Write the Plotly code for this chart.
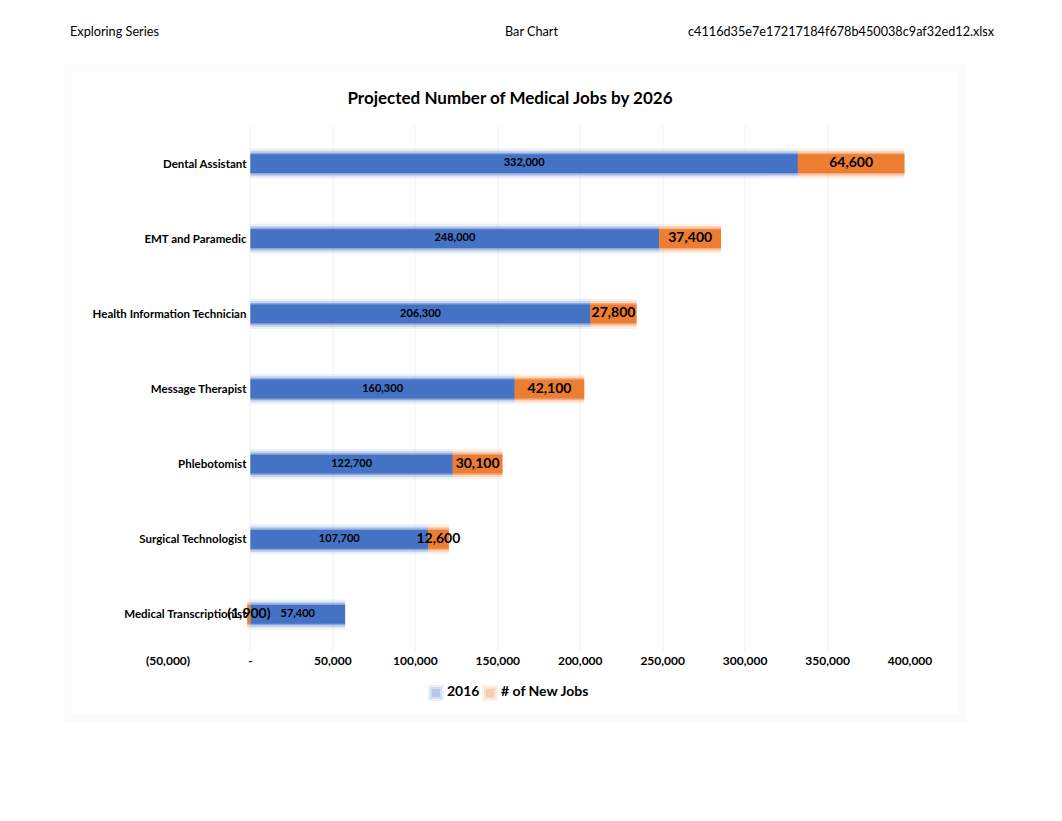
import plotly.graph_objects as go

categories = ["Dental Assistant", "EMT and Paramedic", "Health Information Technician",
              "Message Therapist", "Phlebotomist", "Surgical Technologist",
              "Medical Transcriptionist"]
jobs_2016 = [332000, 248000, 206300, 160300, 122700, 107700, 57400]
new_jobs = [64600, 37400, 27800, 42100, 30100, 12600, -1900]
series_names = ["2016", "# of New Jobs"]
tick_vals = [-50000, 0, 50000, 100000, 150000, 200000, 250000, 300000, 350000, 400000]
tick_text = ["(50,000)", "-", "50,000", "100,000", "150,000", "200,000", "250,000",
             "300,000", "350,000", "400,000"]

BLUE = "#4472C4"
ORANGE = "#ED7D31"
FONT = "Lato"
XMIN, XMAX = -50000, 400000

def fmt(v):
    return f"({abs(v):,})" if v < 0 else f"{v:,}"

new_base = [b if n >= 0 else 0 for b, n in zip(jobs_2016, new_jobs)]

fig = go.Figure()

def add_bar(x, base, color, name):
    for w, op in [(0.40, 0.10), (0.34, 0.22), (0.29, 0.45)]:
        fig.add_trace(go.Bar(y=categories, x=x, base=base, orientation="h",
                             marker=dict(color=color, line=dict(width=0)),
                             opacity=op, width=w, showlegend=False, hoverinfo="skip"))
    fig.add_trace(go.Bar(y=categories, x=x, base=base, orientation="h", name=name,
                         marker=dict(color=color, line=dict(width=0)),
                         width=0.25, showlegend=False))

add_bar(jobs_2016, [0] * len(jobs_2016), BLUE, series_names[0])
add_bar(new_jobs, new_base, ORANGE, series_names[1])

fig.add_trace(go.Scatter(y=categories, x=[v / 2 for v in jobs_2016], mode="text",
                         text=[fmt(v) for v in jobs_2016],
                         textfont=dict(family=FONT, size=11, color="#000000", weight="bold"),
                         showlegend=False, hoverinfo="skip"))
fig.add_trace(go.Scatter(y=categories, x=[b + n / 2 for b, n in zip(new_base, new_jobs)],
                         mode="text", text=[fmt(v) for v in new_jobs],
                         textfont=dict(family=FONT, size=14, color="#000000", weight="bold"),
                         showlegend=False, hoverinfo="skip"))

OFF = 8  # page body margin
W, H = 1062 - OFF, 821 - OFF
L, R, T, B = 168 - OFF, 910 - OFF, 126 - OFF, 652 - OFF

def px(xp):
    return (xp - OFF - L) / (R - L)

def py(yp):
    return (B - (yp - OFF)) / (B - T)

fig.update_layout(
    width=W, height=H,
    margin=dict(l=L, r=W - R, t=T, b=H - B, autoexpand=False),
    paper_bgcolor="white", plot_bgcolor="white",
    barmode="overlay",
    font=dict(family=FONT, color="#000000"),
    title=dict(text="<b>Projected Number of Medical Jobs by 2026</b>",
               font=dict(family=FONT, size=17, color="#000000"),
               x=(510 - OFF) / W, xanchor="center", y=1 - (98 - OFF) / H, yanchor="middle",
               xref="container", yref="container"),
    xaxis=dict(range=[XMIN, XMAX], tickvals=tick_vals, ticktext=tick_text,
               showgrid=True, gridcolor="#f8f8f8", gridwidth=2, zeroline=False,
               showline=False, ticks="", fixedrange=True, automargin=False,
               tickfont=dict(family=FONT, size=12, color="#000000", weight="bold")),
    yaxis=dict(autorange="reversed", anchor="free", automargin=False,
               position=(0 - XMIN) / (XMAX - XMIN),
               showgrid=False, zeroline=False, showline=False, ticks="",
               ticklabelstandoff=4,
               tickfont=dict(family=FONT, size=11.5, color="#000000", weight="bold")),
    showlegend=False,
)

# legend (soft blurred swatches + labels)
leg_font = dict(family=FONT, size=14, color="#000000", weight="bold")
for (cx, tx), color, name in zip([(436, 445), (490, 499)], [BLUE, ORANGE], series_names):
    for s, op in [(8, 0.10), (6, 0.15), (4, 0.2)]:
        fig.add_shape(type="rect", xref="paper", yref="paper",
                      x0=px(cx - s), x1=px(cx + s), y0=py(693 + s), y1=py(693 - s),
                      line=dict(width=0), fillcolor=color, opacity=op)
    fig.add_annotation(text=name, xref="paper", yref="paper", x=px(tx), y=py(690),
                       xanchor="left", yanchor="middle", showarrow=False, font=leg_font)

hdr_font = dict(family="Lato", size=12.7, color="#000000")
fig.add_annotation(text="Exploring Series", xref="paper", yref="paper",
                   x=px(68), y=py(31), xanchor="left", yanchor="middle",
                   showarrow=False, font=hdr_font)
fig.add_annotation(text="Bar Chart", xref="paper", yref="paper",
                   x=px(531), y=py(31), xanchor="center", yanchor="middle",
                   showarrow=False, font=hdr_font)
fig.add_annotation(text="c4116d35e7e17217184f678b450038c9af32ed12.xlsx", xref="paper",
                   yref="paper", x=px(997), y=py(31), xanchor="right", yanchor="middle",
                   showarrow=False, font=hdr_font)

fig.add_shape(type="rect", xref="paper", yref="paper",
              x0=px(68), x1=px(962), y0=py(718), y1=py(68),
              line=dict(color="rgba(0,0,0,0.015)", width=8), fillcolor="rgba(0,0,0,0)",
              layer="below")

fig.write_html("out.html")
